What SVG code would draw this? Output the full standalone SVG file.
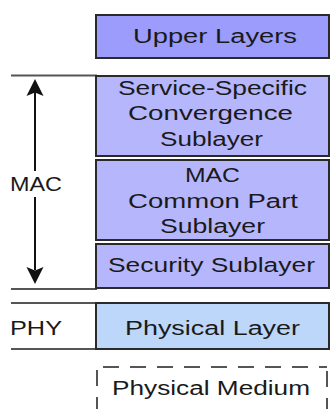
<svg xmlns="http://www.w3.org/2000/svg" width="332" height="409" viewBox="0 0 332 409">
<style>
.box{stroke:#2a2a2a;stroke-width:2}
.up{fill:#9c9cfc}
.mac{fill:#b6b6fc}
.phy{fill:#bcd7fa}
.t{font-family:"Liberation Sans",Arial,sans-serif;font-size:20px;fill:#1a1a1a;text-anchor:middle}
.lbl{font-family:"Liberation Sans",Arial,sans-serif;font-size:20px;fill:#1a1a1a}
.hl{stroke:#555;stroke-width:2}
.dash{stroke:#555;stroke-width:2;stroke-dasharray:16 11;fill:none}
</style>
<rect width="332" height="409" fill="#ffffff"/>
<g id="connectors">
<line class="hl" x1="11" y1="75.5" x2="97" y2="75.5"/>
<line class="hl" x1="11" y1="289" x2="97" y2="289"/>
<line class="hl" x1="11" y1="303" x2="97" y2="303"/>
<line class="hl" x1="11" y1="349" x2="97" y2="349"/>
<line x1="35" y1="92" x2="35" y2="171" stroke="#111" stroke-width="2"/>
<line x1="35" y1="197" x2="35" y2="270" stroke="#111" stroke-width="2"/>
<polygon points="35,79 43.5,96 35,92.5 26.5,96" fill="#111"/>
<polygon points="35,284 43.5,267 35,270.5 26.5,267" fill="#111"/>
</g>
<g id="upper-layers">
<rect class="box up" x="96" y="15" width="233" height="43"/>
<text class="t" x="215" y="43" textLength="164" lengthAdjust="spacingAndGlyphs">Upper Layers</text>
</g>
<g id="sscs">
<rect class="box mac" x="96" y="76" width="233" height="80"/>
<text class="t" x="212.5" y="95" textLength="189" lengthAdjust="spacingAndGlyphs">Service-Specific</text>
<text class="t" x="210.5" y="120" textLength="165" lengthAdjust="spacingAndGlyphs">Convergence</text>
<text class="t" x="211.5" y="146" textLength="103" lengthAdjust="spacingAndGlyphs">Sublayer</text>
</g>
<g id="mac-cps">
<rect class="box mac" x="96" y="160" width="233" height="80"/>
<text class="t" x="212.5" y="182" textLength="55" lengthAdjust="spacingAndGlyphs">MAC</text>
<text class="t" x="213" y="208" textLength="170" lengthAdjust="spacingAndGlyphs">Common Part</text>
<text class="t" x="212.5" y="233" textLength="105" lengthAdjust="spacingAndGlyphs">Sublayer</text>
</g>
<g id="security">
<rect class="box mac" x="96" y="244" width="233" height="44"/>
<text class="t" x="211.5" y="272" textLength="207" lengthAdjust="spacingAndGlyphs">Security Sublayer</text>
</g>
<g id="physical-layer">
<rect class="box phy" x="96" y="303" width="233" height="46"/>
<text class="t" x="212.5" y="335" textLength="175" lengthAdjust="spacingAndGlyphs">Physical Layer</text>
</g>
<g id="physical-medium">
<line class="dash" x1="103" y1="367" x2="327" y2="367"/>
<line class="dash" x1="97" y1="370" x2="97" y2="409"/>
<line class="dash" x1="327" y1="367" x2="327" y2="409" style="stroke-dashoffset:-4"/>
<text class="t" x="211" y="395" textLength="198" lengthAdjust="spacingAndGlyphs">Physical Medium</text>
</g>
<g id="mac-label">
<text class="lbl" x="10" y="191" textLength="52" lengthAdjust="spacingAndGlyphs">MAC</text>
</g>
<g id="phy-label">
<text class="lbl" x="10" y="335" textLength="52" lengthAdjust="spacingAndGlyphs">PHY</text>
</g>
</svg>
